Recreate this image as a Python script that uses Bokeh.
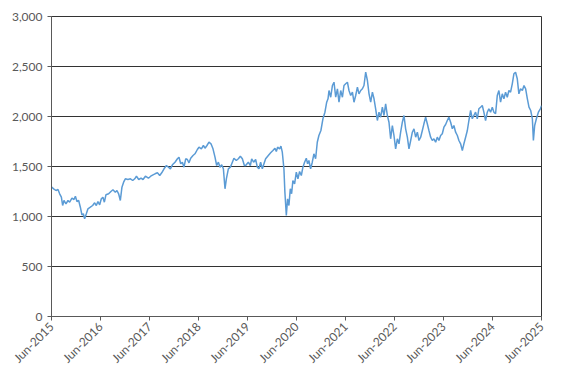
import math
from datetime import datetime, timedelta
from bokeh.plotting import figure
from bokeh.models import FixedTicker, NumeralTickFormatter, Range1d, CustomJSTickFormatter
from bokeh.embed import file_html
from bokeh.resources import INLINE

# decimal-year dates and index values
dates = [
    2015.417, 2015.458, 2015.505, 2015.546, 2015.580, 2015.615, 2015.641, 2015.668, 2015.709, 2015.750,
    2015.784, 2015.831, 2015.872, 2015.901, 2015.933, 2015.968, 2016.003, 2016.035, 2016.064, 2016.090,
    2016.125, 2016.158, 2016.207, 2016.254, 2016.295, 2016.329, 2016.362, 2016.397, 2016.431, 2016.464,
    2016.493, 2016.525, 2016.580, 2016.627, 2016.668, 2016.717, 2016.750, 2016.784, 2016.819, 2016.852,
    2016.886, 2016.921, 2016.974, 2017.023, 2017.070, 2017.111, 2017.146, 2017.193, 2017.239, 2017.280,
    2017.329,
    2017.390, 2017.437, 2017.484, 2017.525, 2017.574, 2017.621, 2017.662, 2017.709, 2017.758, 2017.799,
    2017.839, 2017.880, 2017.933, 2017.982, 2018.015, 2018.050, 2018.084, 2018.117, 2018.152, 2018.186,
    2018.219, 2018.254, 2018.301, 2018.341, 2018.390, 2018.423, 2018.472, 2018.513, 2018.546, 2018.586,
    2018.627, 2018.668, 2018.709, 2018.750, 2018.784, 2018.819, 2018.852, 2018.886, 2018.921, 2018.954,
    2018.982, 2019.023, 2019.064, 2019.105, 2019.137, 2019.186, 2019.227, 2019.268, 2019.309, 2019.350,
    2019.376, 2019.431, 2019.472, 2019.499, 2019.539, 2019.580, 2019.615, 2019.648, 2019.682, 2019.717,
    2019.750, 2019.784, 2019.839, 2019.886, 2019.933, 2019.974, 2020.003, 2020.029, 2020.070, 2020.097,
    2020.125, 2020.158, 2020.178, 2020.207, 2020.233, 2020.260, 2020.288, 2020.315, 2020.341, 2020.376,
    2020.411, 2020.444, 2020.478, 2020.513, 2020.546, 2020.580, 2020.615, 2020.641, 2020.668, 2020.703,
    2020.737, 2020.770, 2020.805, 2020.839, 2020.872, 2020.913, 2020.954, 2020.995, 2021.029, 2021.056,
    2021.076, 2021.111, 2021.146, 2021.178, 2021.213, 2021.248, 2021.280, 2021.315, 2021.350, 2021.382,
    2021.417,
    2021.452, 2021.484, 2021.519, 2021.554, 2021.586, 2021.621, 2021.656, 2021.688, 2021.723, 2021.758,
    2021.790, 2021.825, 2021.860, 2021.893, 2021.927, 2021.962, 2021.995, 2022.029, 2022.064, 2022.097,
    2022.131, 2022.166, 2022.199, 2022.233, 2022.268, 2022.301, 2022.335, 2022.370, 2022.403, 2022.437,
    2022.472, 2022.505, 2022.539, 2022.574, 2022.607, 2022.641, 2022.676, 2022.709, 2022.744, 2022.778,
    2022.811, 2022.846, 2022.880, 2022.913, 2022.948, 2022.982, 2023.015, 2023.050, 2023.084, 2023.117,
    2023.152, 2023.186, 2023.219, 2023.254, 2023.288, 2023.321, 2023.356, 2023.390, 2023.423,
    2023.458, 2023.492, 2023.525, 2023.560, 2023.595, 2023.627, 2023.662, 2023.697, 2023.729, 2023.764,
    2023.799, 2023.831, 2023.866, 2023.901, 2023.933, 2023.968, 2024.003, 2024.035, 2024.070, 2024.105,
    2024.137, 2024.172, 2024.207, 2024.239, 2024.274, 2024.309, 2024.341, 2024.376, 2024.411, 2024.444,
    2024.478, 2024.513, 2024.546, 2024.580, 2024.615, 2024.648, 2024.682, 2024.717, 2024.750, 2024.784,
    2024.819, 2024.852, 2024.886, 2024.921, 2024.954, 2024.988, 2025.023, 2025.056, 2025.090, 2025.125,
    2025.158, 2025.193, 2025.227, 2025.248, 2025.274, 2025.309, 2025.350, 2025.390, 2025.417,
]
values = [
    1293, 1277, 1260, 1270, 1227, 1193, 1110, 1160, 1127, 1160,
    1143, 1183, 1170, 1203, 1150, 1160, 1093, 1017, 1027, 977,
    1027, 1077, 1093, 1110, 1137, 1110, 1150, 1117, 1177, 1193,
    1143, 1217, 1227, 1250, 1267, 1243, 1260, 1227, 1160, 1293,
    1343, 1377, 1370, 1377, 1360, 1377, 1403, 1370, 1383, 1370,
    1403,
    1383, 1403, 1417, 1427, 1437, 1410, 1437, 1477, 1510, 1493,
    1477, 1517, 1543, 1577, 1593, 1527, 1543, 1493, 1577, 1570,
    1537, 1583, 1610, 1627, 1670, 1693, 1677, 1710, 1683, 1710,
    1743, 1727, 1677, 1593, 1510, 1543, 1493, 1517, 1477, 1277,
    1377, 1477, 1493, 1543, 1583, 1560, 1577, 1603, 1577, 1510,
    1510, 1543, 1510, 1577, 1543, 1570, 1493, 1477, 1543, 1477,
    1527, 1577, 1610, 1637, 1660, 1683, 1650, 1693, 1677, 1703,
    1643, 1477, 1243, 1010, 1177, 1110, 1277, 1227, 1360, 1327,
    1443, 1377, 1450, 1410, 1493, 1543, 1583, 1527, 1560, 1477,
    1543, 1627, 1577, 1743, 1810, 1860, 1977, 2043, 2143, 2177,
    2260, 2193, 2310, 2343, 2193, 2277, 2143, 2260, 2193, 2310,
    2327,
    2343, 2260, 2210, 2243, 2143, 2210, 2293, 2227, 2260, 2277,
    2310, 2443, 2360, 2227, 2143, 2243, 2177, 2077, 1960, 2043,
    1993, 2093, 2010, 2127, 2010, 1943, 1777, 1910, 1810, 1677,
    1777, 1727, 1843, 1943, 2010, 1877, 1793, 1677, 1760, 1843,
    1877, 1793, 1843, 1760, 1793, 1860, 1927, 1993, 1927, 1860,
    1793, 1760, 1777, 1743, 1793, 1760, 1810, 1827, 1893,
    1920, 1960, 1993, 1943, 1877, 1910, 1843, 1810, 1760, 1727,
    1660, 1727, 1793, 1860, 1960, 2060, 1977, 2010, 2043, 1977,
    2077, 2093, 2110, 2043, 1960, 2043, 2077, 2043, 2093, 2043,
    2027, 2210, 2260, 2143, 2227, 2177, 2243, 2193, 2260, 2243,
    2327, 2427, 2443, 2377, 2227, 2277, 2260, 2310, 2277, 2177,
    2093, 2060, 1977, 1760, 1910, 1977, 2043, 2077, 2110,
]
tick_years = [2015, 2016, 2017, 2018, 2019, 2020, 2021, 2022, 2023, 2024, 2025]
y_ticks = [0, 500, 1000, 1500, 2000, 2500, 3000]


def to_dt(t):
    y = int(math.floor(t))
    return datetime(y, 1, 1) + timedelta(days=(t - y) * 365.25)


def ms(d):
    return (d - datetime(1970, 1, 1)).total_seconds() * 1000.0


xs = [to_dt(t) for t in dates]
tick_ms = [ms(datetime(y, 6, 1)) for y in tick_years]

p = figure(width=569, height=380, x_axis_type="datetime", output_backend="svg",
           toolbar_location=None, min_border_left=51, min_border_right=28,
           min_border_top=16, min_border_bottom=64)
p.x_range = Range1d(tick_ms[0], tick_ms[-1])
p.y_range = Range1d(0, 3000)

p.line(xs, values, line_color="#5B9BD5", line_width=1.5)

p.xaxis.ticker = FixedTicker(ticks=tick_ms)
p.xaxis.formatter = CustomJSTickFormatter(code="""
const d = new Date(tick);
return 'Jun-' + d.getUTCFullYear();
""")
p.xaxis.major_label_orientation = math.pi / 4
p.yaxis.ticker = FixedTicker(ticks=y_ticks)
p.yaxis.formatter = NumeralTickFormatter(format="0,0")

for ax in (p.xaxis, p.yaxis):
    ax.axis_line_color = "#595959"
    ax.axis_line_width = 1
    ax.major_tick_line_color = "#595959"
    ax.major_tick_in = 0
    ax.major_tick_out = 4
    ax.minor_tick_line_color = None
    ax.major_label_text_font = "Lato"
    ax.major_label_text_font_size = "12px"
    ax.major_label_text_color = "#595959"
p.yaxis.major_label_standoff = 5
p.xaxis.major_label_standoff = 4

p.xgrid.grid_line_color = None
p.ygrid.grid_line_color = "#333333"
p.ygrid.grid_line_width = 1
p.outline_line_color = "#333333"
p.outline_line_width = 1
p.background_fill_color = "white"
p.border_fill_color = "white"

open("out.html", "w").write(file_html(p, INLINE))
